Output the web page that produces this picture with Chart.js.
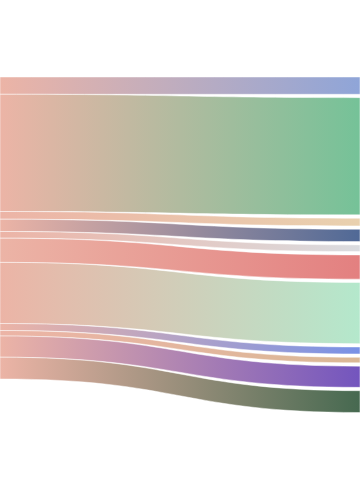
<!DOCTYPE html>
<html>
<head>
<meta charset="utf-8">
<script src="https://cdn.jsdelivr.net/npm/chart.js@4/dist/chart.umd.min.js"></script>
<style>
  html, body { margin: 0; padding: 0; background: #fff; }
  #wrap { width: 360px; height: 500px; }
</style>
</head>
<body>
<div id="wrap"><canvas id="chart"></canvas></div>
<script>
// one source on the left, eleven targets on the right
var sourceName = 'Source';
var targetNames = ['T1', 'T2', 'T3', 'T4', 'T5', 'T6', 'T7', 'T8', 'T9', 'T10', 'T11'];
var flowValues = [17.3, 117.3, 7.7, 12.3, 6.7, 24.2, 61.2, 7, 5.5, 21.2, 21.8];

var sourceColor = '#ECB4A6';
var targetColors = ['#8FA5D8', '#75C298', '#E9D1AF', '#506996', '#DADCE0', '#E38080',
                    '#B4E8CC', '#7891E6', '#DAB896', '#7355BE', '#466950'];

var total = flowValues.reduce(function(a, b) { return a + b; }, 0);

// draws the flows as bands between the two columns, using the chart scales
var sankeyPlugin = {
  id: 'sankeyFlows',
  beforeDatasetsDraw: function(chart, args, opts) {
    var ctx = chart.ctx;
    var xs = chart.scales.x, ys = chart.scales.y;
    var x0 = xs.getPixelForValue(0), x1 = xs.getPixelForValue(1);
    var xm = (x0 + x1) / 2;
    var cum = 0;
    ctx.save();
    flowValues.forEach(function(v, i) {
      var ly0 = ys.getPixelForValue(cum);
      var ly1 = ys.getPixelForValue(cum + v);
      var ry0 = ly0 + i * opts.nodePadding;
      var ry1 = ly1 + i * opts.nodePadding;
      cum += v;

      var grad = ctx.createLinearGradient(x0, 0, x1, 0);
      grad.addColorStop(0, sourceColor);
      grad.addColorStop(1, targetColors[i]);

      ctx.beginPath();
      ctx.moveTo(x0, ly0);
      ctx.bezierCurveTo(xm, ly0, xm, ry0, x1, ry0);
      ctx.lineTo(x1, ry1);
      ctx.bezierCurveTo(xm, ry1, xm, ly1, x0, ly1);
      ctx.closePath();
      ctx.fillStyle = grad;
      ctx.fill();
      ctx.lineWidth = opts.borderWidth;
      ctx.strokeStyle = opts.borderColor;
      ctx.stroke();
    });
    ctx.restore();
  }
};

new Chart(document.getElementById('chart'), {
  type: 'scatter',
  data: {
    datasets: [{ label: sourceName, data: [] }]
  },
  options: {
    responsive: true,
    maintainAspectRatio: false,
    animation: false,
    layout: { padding: { top: 77, bottom: 121, left: 0, right: 0 } },
    scales: {
      x: { type: 'linear', min: 0, max: 1, display: false },
      y: { type: 'linear', min: 0, max: total, reverse: true, display: false }
    },
    plugins: {
      legend: { display: false },
      tooltip: { enabled: false },
      sankeyFlows: { nodePadding: 3.35, borderWidth: 0.8, borderColor: 'rgba(255,255,255,0.6)' }
    }
  },
  plugins: [sankeyPlugin]
});
</script>
</body>
</html>
